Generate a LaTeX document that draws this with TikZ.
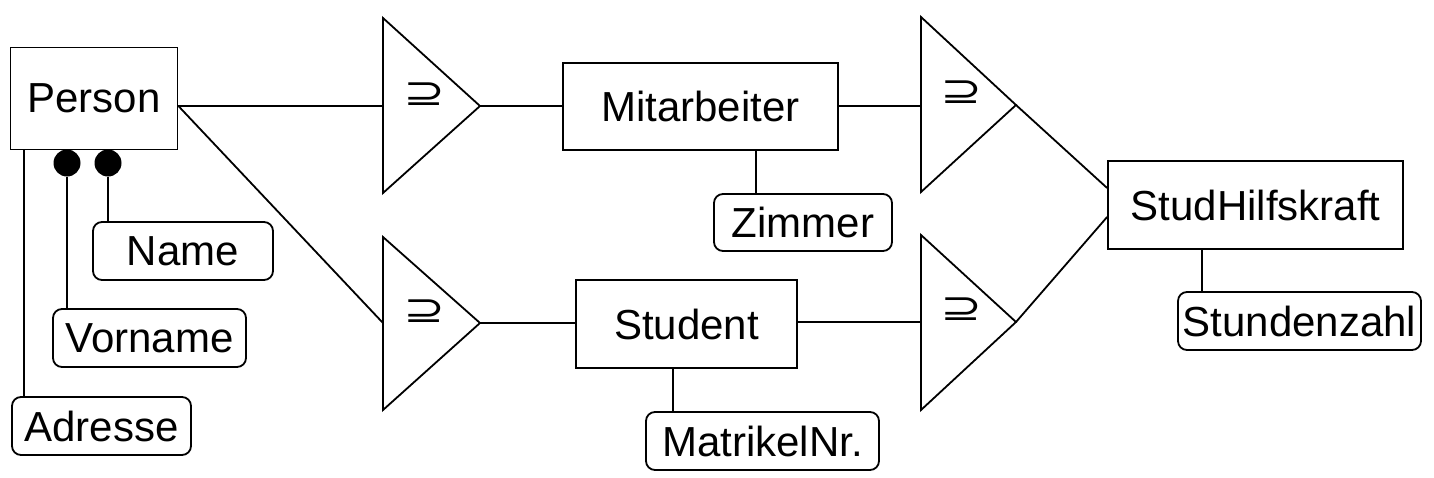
\documentclass[tikz,border=0pt]{standalone}
\usepackage{fontspec}
\setmainfont{Liberation Sans}
\newfontfamily\symfam{DejaVu Sans}
\usetikzlibrary{calc}
\newcommand{\supsym}{\scalebox{1.35}[1.0]{⊇}}
\begin{document}
\begin{tikzpicture}[x=1pt,y=-1pt,
  every node/.style={font=\fontsize{42}{50}\selectfont, inner sep=0pt},
  ent/.style={draw, rectangle, line width=1.8pt},
  attr/.style={draw, rectangle, rounded corners=9pt, line width=1.8pt},
  conn/.style={line width=1.8pt},
  dot/.style={circle, fill=black, minimum size=27pt},
  sym/.style={font=\symfam\fontsize{37}{44}\selectfont}]
\useasboundingbox (0,0) rectangle (1434,477);
% entities
\node[ent, minimum width=167pt, minimum height=102pt] (person) at (94,98.5) {Person};
\node[ent, minimum width=275pt, minimum height=87pt] (mitarbeiter) at (700.5,106.5) {Mitarbeiter};
\node[ent, minimum width=221pt, minimum height=88pt] (student) at (686.5,324) {Student};
\node[ent, minimum width=295pt, minimum height=88pt] (sh) at (1255.5,205) {StudHilfskraft};
% attributes
\node[attr, minimum width=180pt, minimum height=58pt] (name) at (183,251) {Name};
\node[attr, minimum width=193pt, minimum height=58pt] (vorname) at (149.5,338) {Vorname};
\node[attr, minimum width=179pt, minimum height=58pt] (adresse) at (101.5,426) {Adresse};
\node[attr, minimum width=178pt, minimum height=57pt] (zimmer) at (803,222.5) {Zimmer};
\node[attr, minimum width=233pt, minimum height=58pt] (matrikel) at (762.5,441) {MatrikelNr.};
\node[attr, minimum width=243pt, minimum height=58pt] (stunden) at (1299.5,321) {Stundenzahl};
% key dots
\node[dot] (d1) at (67,163) {};
\node[dot] (d2) at (108,163) {};
% triangles
\coordinate (t1t) at (383,18);  \coordinate (t1b) at (383,193); \coordinate (t1a) at (480,106); \coordinate (t1m) at (383,106);
\coordinate (t2t) at (383,237); \coordinate (t2b) at (383,410); \coordinate (t2a) at (480,323); \coordinate (t2m) at (383,323);
\coordinate (t3t) at (921,17);  \coordinate (t3b) at (921,192); \coordinate (t3a) at (1016,105); \coordinate (t3m) at (921,106);
\coordinate (t4t) at (921,235); \coordinate (t4b) at (921,410); \coordinate (t4a) at (1016,322); \coordinate (t4m) at (921,322);
\draw[conn, line join=miter] (t1t) -- (t1a) -- (t1b) -- cycle;
\draw[conn, line join=miter] (t2t) -- (t2a) -- (t2b) -- cycle;
\draw[conn, line join=miter] (t3t) -- (t3a) -- (t3b) -- cycle;
\draw[conn, line join=miter] (t4t) -- (t4a) -- (t4b) -- cycle;
\node[sym] (s1) at (424,94) {\supsym};
\node[sym] (s2) at (424,311) {\supsym};
\node[sym] (s3) at (961,92) {\supsym};
\node[sym] (s4) at (961,309) {\supsym};
% connectors
\coordinate (pe) at (person.east |- t1m);
\draw[conn] (pe) -- (t1m);
\draw[conn] (pe) -- (t2m);
\draw[conn] (t1a) -- (mitarbeiter.west |- t1a);
\draw[conn] (t2a) -- (student.west |- t2a);
\draw[conn] (mitarbeiter.east |- t3m) -- (t3m);
\draw[conn] (student.east |- t4m) -- (t4m);
\draw[conn] (t3a) -- ($(sh.west)+(0,-17)$);
\draw[conn] (t4a) -- ($(sh.west)+(0,12)$);
\draw[conn] (d1.south) -- (d1.south |- vorname.north);
\draw[conn] (d2.south) -- (d2.south |- name.north);
\draw[conn] ([xshift=14pt]person.south west) -- ([xshift=14pt]person.south west |- adresse.north);
\draw[conn] ([xshift=55.5pt]mitarbeiter.south) -- ([xshift=55.5pt]mitarbeiter.south |- zimmer.north);
\draw[conn] ([xshift=-13.5pt]student.south) -- ([xshift=-13.5pt]student.south |- matrikel.north);
\draw[conn] ([xshift=-53.5pt]sh.south) -- ([xshift=-53.5pt]sh.south |- stunden.north);
\end{tikzpicture}
\end{document}
